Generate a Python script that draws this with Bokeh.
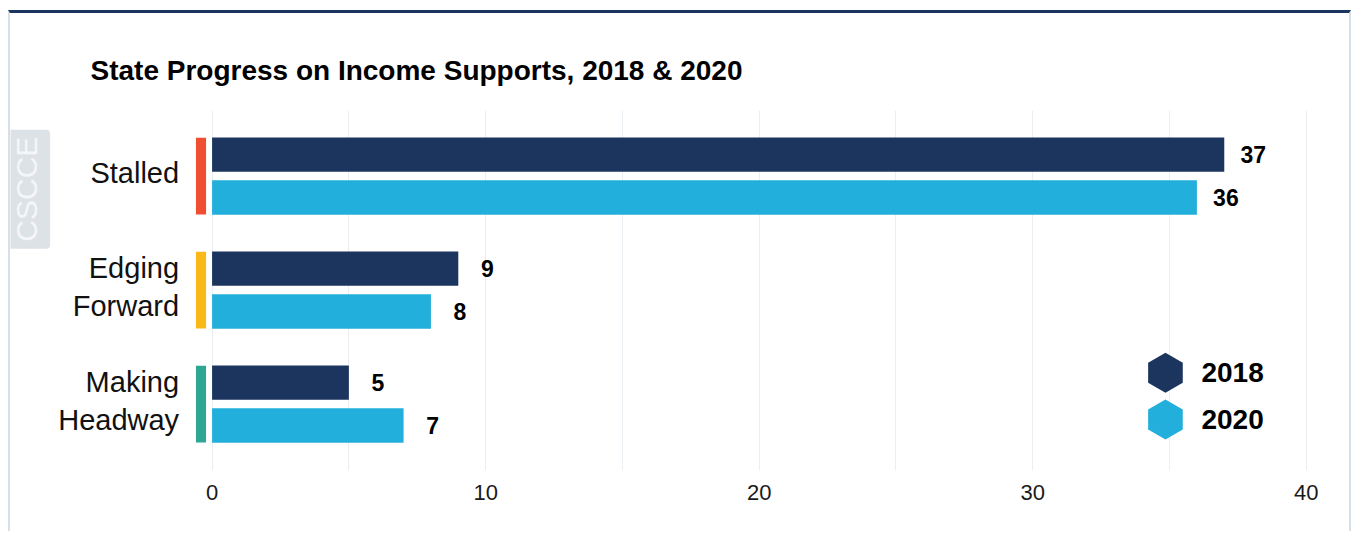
import math
from bokeh.plotting import figure
from bokeh.models import Range1d, FixedTicker, Title, Label, ColumnDataSource
from bokeh.core.properties import value
from bokeh.embed import file_html
from bokeh.resources import INLINE

# ---- data ----
categories = ["Stalled", "Edging\nForward", "Making\nHeadway"]
years = ["2018", "2020"]
values_2018 = [37, 9, 5]
values_2020 = [36, 8, 7]
x_ticks = [0, 10, 20, 30, 40]
grid_ticks = [0, 5, 10, 15, 20, 25, 30, 35, 40]
title_text = "State Progress on Income Supports, 2018 & 2020"
watermark_text = "CSCCE"

# ---- style ----
NAVY = "#1c355e"
SKY = "#23afdb"
year_colors = [NAVY, SKY]
cat_colors = ["#f04e30", "#fbb919", "#2fa593"]
GRID = "#e9eef2"
FONT = "Liberation Sans"

GROUP_STEP = 2.66
BAR_OFFSET = 0.5
BAR_H = 0.8

centers = [i * GROUP_STEP for i in range(len(categories))]
y18 = [c - BAR_OFFSET for c in centers]
y20 = [c + BAR_OFFSET for c in centers]

p = figure(width=1343, height=521, output_backend="svg", toolbar_location=None,
           x_range=Range1d(-7.369, 41.724), y_range=Range1d(6.87, -1.53),
           y_axis_location=None, min_border_left=0, min_border_right=0,
           min_border_top=97, min_border_bottom=64)
p.styles = {"border-top": "3px solid " + NAVY,
            "border-left": "2px solid #d9dfe6",
            "border-right": "2px solid #d9dfe6",
            "margin-top": "10px",
            "margin-left": "8px"}
p.outline_line_color = None
p.background_fill_color = "white"
p.border_fill_color = "white"

p.title = Title(text=title_text, align="left", offset=80, standoff=50,
                text_font=FONT, text_font_size="28px", text_font_style="bold",
                text_color="#000000")

# grid
p.xgrid.ticker = FixedTicker(ticks=grid_ticks)
p.xgrid.grid_line_color = GRID
p.xgrid.grid_line_width = 1
p.ygrid.grid_line_color = None

# x axis
ax = p.xaxis[0]
ax.ticker = FixedTicker(ticks=x_ticks)
ax.axis_line_color = None
ax.major_tick_line_color = None
ax.minor_tick_line_color = None
ax.major_tick_out = 0
ax.major_tick_in = 0
ax.major_label_standoff = 14
ax.major_label_text_font = FONT
ax.major_label_text_font_size = "22px"
ax.major_label_text_color = "#1a1a1a"

# bars
src18 = ColumnDataSource(dict(y=y18, v=values_2018, t=[str(v) for v in values_2018]))
src20 = ColumnDataSource(dict(y=y20, v=values_2020, t=[str(v) for v in values_2020]))
p.hbar(y="y", right="v", left=0, height=BAR_H, source=src18, fill_color=NAVY, line_color=None)
p.hbar(y="y", right="v", left=0, height=BAR_H, source=src20, fill_color=SKY, line_color=None)

for src in (src18, src20):
    p.text(x="v", y="y", text="t", source=src, x_offset=29, text_align="center",
           text_baseline="middle", text_font=value(FONT), text_font_size="23px",
           text_font_style="bold", text_color="#000000")

# category colour markers
p.hbar(y=centers, left=-0.59, right=-0.22, height=1.79, fill_color=cat_colors, line_color=None)

# category labels
p.text(x=[0] * len(categories), y=centers, text=categories, x_offset=-33, y_offset=-3,
       text_align="right", text_baseline="middle", text_font=value(FONT),
       text_font_size="29px", text_color="#111111", text_line_height=1.2)

# legend (manual, hexagons)
leg_x = 34.85
leg_y0 = 4.59
leg_step = 1.09
leg_ys = [leg_y0 + i * leg_step for i in range(len(years))]
p.scatter(x=[leg_x] * len(years), y=leg_ys, marker="hex", size=40, angle=math.pi / 2,
          fill_color=year_colors, line_color=None)
p.text(x=[leg_x] * len(years), y=leg_ys, text=years, x_offset=36, text_align="left",
       text_baseline="middle", text_font=value(FONT), text_font_size="28px",
       text_font_style="bold", text_color="#000000")

# watermark
wm = Label(x=-6.78, y=0.306, text=watermark_text, angle=math.pi / 2,
           text_align="center", text_baseline="middle", text_font=FONT,
           text_font_size="30px", text_color="#f5f6f8",
           background_fill_color="#dde2e7", background_fill_alpha=1.0,
           padding=7, border_radius=4)
p.add_layout(wm)

open("out.html", "w").write(file_html(p, INLINE))
